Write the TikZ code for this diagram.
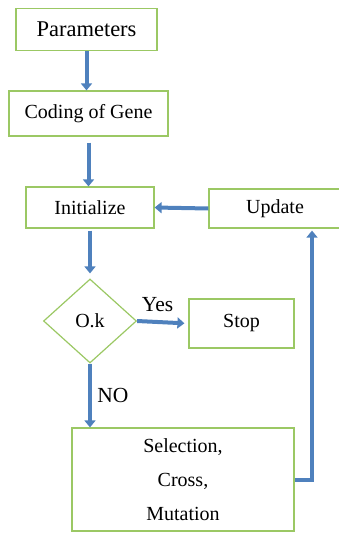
\documentclass[tikz,border=0pt]{standalone}
\usepackage{fontspec}
\setmainfont{Liberation Serif}
\usetikzlibrary{shapes.geometric,arrows.meta}
\definecolor{boxgreen}{RGB}{155,200,100}
\definecolor{flowblue}{RGB}{79,129,189}
\tikzset{box/.style={draw=boxgreen, line width=1.2pt, inner sep=0pt, align=center, font=\fontsize{20}{34}\selectfont},
  flow/.style={draw=flowblue, line width=4pt, -{Triangle[width=11pt,length=7pt]}},
  tag/.style={font=\fontsize{21.5}{24}\selectfont}}

\begin{document}
\begin{tikzpicture}[x=1pt,y=-1pt]
\useasboundingbox (0,0) rectangle (339,533);
\node[box, minimum width=141pt, minimum height=42pt, font=\fontsize{22.5}{26}\selectfont] (param) at (86.5,29.5) {Parameters};
\node[box, minimum width=159pt, minimum height=45pt] (coding) at (88.5,113.5) {Coding of Gene};
\node[box, minimum width=128pt, minimum height=41pt] (init) at (90,207.5) {Initialize};
\node[box, minimum width=132pt, minimum height=39pt] (update) at (275,208.5) {Update};
\node[box, diamond, minimum width=93pt, minimum height=84pt] (ok) at (90,321) {O.k};
\node[box, minimum width=105pt, minimum height=49pt] (stop) at (241.5,323.5) {Stop};
\node[box, minimum width=222pt, minimum height=103pt] (sel) at (183,479.5) {Selection,\\Cross,\\Mutation};

\draw[flow] (param.south) -- (param.south |- coding.north);
\draw[flow, shorten <=6pt] (coding.south) -- (coding.south |- init.north);
\draw[flow, shorten <=2pt, shorten >=5pt] (init.south) -- (ok.north);
\draw[flow] (update.west) -- (init.east);
\draw[flow, shorten >=4pt] (ok.east) -- node[tag, above=5pt, pos=0.4] (yes) {Yes} (stop.west);
\draw[flow] (ok.south) -- node[tag, right=2pt] (no) {NO} (ok.south |- sel.north);
\draw[flow, shorten >=2pt] (sel.east) -| ([xshift=37pt]update.south);
\end{tikzpicture}
\end{document}
